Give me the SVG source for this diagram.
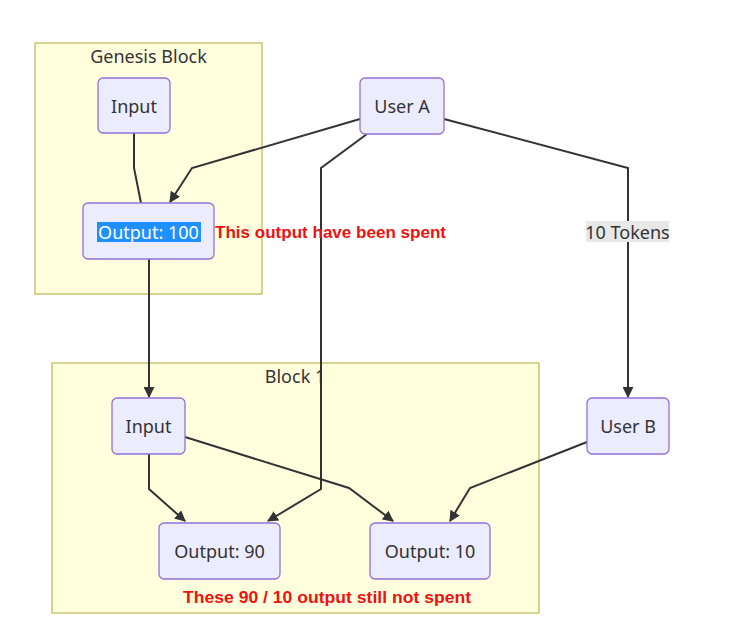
<svg xmlns="http://www.w3.org/2000/svg" width="740" height="628" viewBox="0 0 740 628">
<defs>
<marker id="arr" viewBox="0 0 10 10" refX="9" refY="5" markerWidth="11" markerHeight="11" markerUnits="userSpaceOnUse" orient="auto">
<path d="M0,0 L10,5 L0,10 z" fill="#333"/>
</marker>
<style>
.cluster{fill:#ffffde;stroke:#aaaa33;stroke-width:1}
.box{fill:#ececff;stroke:#9370db;stroke-width:1.3}
.t{font-family:"Noto Sans","Open Sans",sans-serif;font-size:18px;fill:#333;text-anchor:middle;dominant-baseline:central}
.edge{fill:none;stroke:#333;stroke-width:2}
.note{font-family:"Liberation Sans",Arial,sans-serif;font-size:16px;font-weight:bold;fill:#ee1111}
</style>
</defs>
<rect width="740" height="628" fill="#ffffff"/>
<g id="genesis-block">
<rect class="cluster" x="35" y="43" width="227" height="251"/>
<text class="t" x="148.5" y="56">Genesis Block</text>
</g>
<g id="block-1">
<rect class="cluster" x="52" y="363" width="487" height="250"/>
<text class="t" x="295" y="376">Block 1</text>
</g>
<g id="connectors">
<path class="edge" d="M134,133 L134,168 L141,203"/>
<path class="edge" d="M360,119 L192,168 L170,202" marker-end="url(#arr)"/>
<path class="edge" d="M367,134 L321,168 L321,489 L268,521" marker-end="url(#arr)"/>
<path class="edge" d="M444,119 L628,168 L628,397" marker-end="url(#arr)"/>
<path class="edge" d="M149,259 L149,397" marker-end="url(#arr)"/>
<path class="edge" d="M149,454 L149,489 L185,521" marker-end="url(#arr)"/>
<path class="edge" d="M185,437 L349,488 L393,521" marker-end="url(#arr)"/>
<path class="edge" d="M587,442 L470,488 L450,521" marker-end="url(#arr)"/>
<rect x="586" y="221" width="83" height="21" fill="#e8e8e8"/>
<text class="t" x="627.5" y="231.5">10 Tokens</text>
</g>
<g id="genesis-input">
<rect class="box" x="98" y="78" width="72" height="55" rx="5"/>
<text class="t" x="134" y="105.5">Input</text>
</g>
<g id="output-100">
<rect class="box" x="83" y="203" width="131" height="56" rx="5"/>
<rect x="97" y="222" width="104" height="20" fill="#1e90ff"/>
<text class="t" x="148.5" y="231.5" style="fill:#ffffff">Output: 100</text>
</g>
<g id="user-a">
<rect class="box" x="360" y="78" width="84" height="56" rx="5"/>
<text class="t" x="402" y="105.5">User A</text>
</g>
<g id="block1-input">
<rect class="box" x="112" y="398" width="73" height="56" rx="5"/>
<text class="t" x="148.5" y="425.5">Input</text>
</g>
<g id="user-b">
<rect class="box" x="587" y="398" width="82" height="56" rx="5"/>
<text class="t" x="628" y="425.5">User B</text>
</g>
<g id="output-90">
<rect class="box" x="159" y="523" width="121" height="56" rx="5"/>
<text class="t" x="219.5" y="550.5">Output: 90</text>
</g>
<g id="output-10">
<rect class="box" x="370" y="523" width="120" height="56" rx="5"/>
<text class="t" x="430" y="550.5">Output: 10</text>
</g>
<text class="note" x="215" y="238" textLength="231" lengthAdjust="spacingAndGlyphs">This output have been spent</text>
<text class="note" x="183" y="603" textLength="288" lengthAdjust="spacingAndGlyphs">These 90 / 10 output still not spent</text>
</svg>
